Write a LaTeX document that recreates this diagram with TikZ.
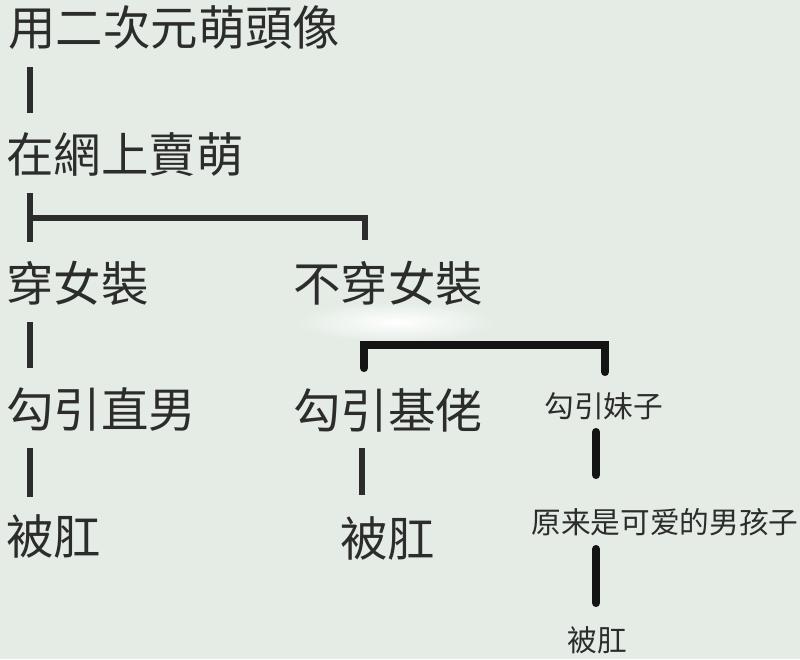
\documentclass[tikz,border=0pt]{standalone}
\usepackage{fontspec}
\newfontfamily\tcfont{Noto Sans CJK TC}
\newfontfamily\scfont{Noto Sans CJK SC}
\usetikzlibrary{calc}
\definecolor{bgcol}{HTML}{E4ECE5}
\definecolor{inkcol}{HTML}{2C2C2C}
\tikzset{
  bigtext/.style={anchor=west, inner sep=0pt, text=inkcol, font=\tcfont\fontsize{27pt}{31pt}\selectfont},
  smalltext/.style={anchor=west, inner sep=0pt, text=inkcol, font=\scfont\fontsize{16.9pt}{19pt}\selectfont},
  thinline/.style={draw=inkcol, line width=3pt},
  boldline/.style={draw=black!92, line width=4.6pt, line cap=round},
  smudge/.style={inner color=white, outer color=bgcol, draw=none},
}
\begin{document}
\begin{tikzpicture}[x=0.02cm, y=-0.02cm]
\fill[bgcol] (0,0) rectangle (800,659);
\useasboundingbox (0,0) rectangle (800,659);

\shade[smudge] (396,322) ellipse [x radius=100, y radius=20];

\node[bigtext] (n1) at (8,28) {用二次元萌頭像};
\node[bigtext] (n2) at (6,155) {在網上賣萌};
\node[bigtext] (n3) at (6,283) {穿女裝};
\node[bigtext] (n4) at (293,283) {不穿女裝};
\node[bigtext] (n5) at (6,409) {勾引直男};
\node[bigtext] (n6) at (293,410) {勾引基佬};
\node[smalltext] (n7) at (544,406) {勾引妹子};
\node[bigtext] (n8) at (6,536) {被肛};
\node[bigtext] (n9) at (340,538) {被肛};
\node[smalltext] (n10) at (531,522) {原来是可爱的男孩子};
\node[smalltext] (n11) at (567,640) {被肛};

% left column
\draw[thinline] ($(n1.west)+(22,39)$) -- ($(n2.west)+(24,-42)$);
\draw[thinline] ($(n2.west)+(24,38)$) -- ($(n3.west)+(24,-41)$);
\draw[thinline] ($(n3.west)+(24,-65)$) -| ($(n4.west)+(72,-43)$);
\draw[thinline] ($(n3.west)+(24,39)$) -- ($(n5.west)+(24,-41)$);
\draw[thinline] ($(n5.west)+(24,39)$) -- ($(n8.west)+(24,-39)$);

% middle column
\draw[boldline] ($(n6.west)+(71,-42)$) -- ($(n6.west)+(71,-65)$) -- ($(n7.west)+(61,-61)$) -- ($(n7.west)+(61,-34)$);
\draw[thinline] ($(n6.west)+(69,38)$) -- ($(n9.west)+(22,-43)$);

% right column
\draw[boldline] ($(n7.west)+(52,26)$) -- ($(n10.west)+(65,-47)$);
\draw[boldline] ($(n10.west)+(65,27)$) -- ($(n11.west)+(29,-37)$);
\end{tikzpicture}
\end{document}
